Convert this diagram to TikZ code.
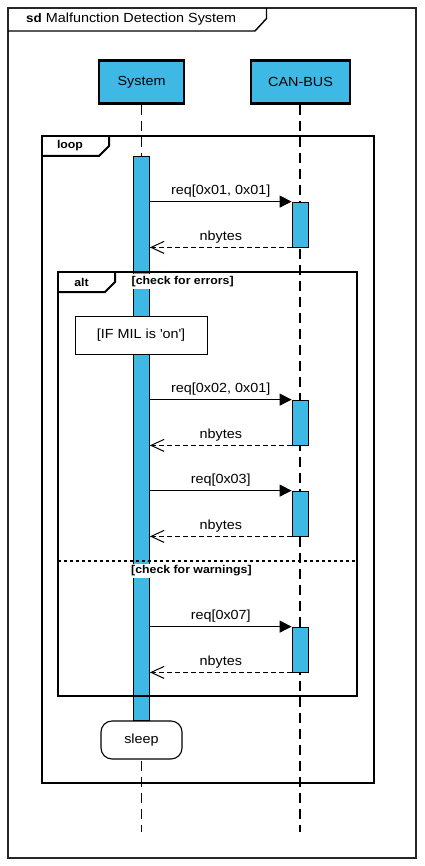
\documentclass[tikz,border=0pt]{standalone}
\usepackage{fontspec}
\setmainfont[FakeStretch=1.09]{Liberation Sans}
\usetikzlibrary{arrows.meta}
\definecolor{actblue}{RGB}{62,185,229}
\begin{document}
\begin{tikzpicture}[x=1pt,y=-1pt,
  txt/.style={font=\fontsize{13.2}{15}\selectfont},
  btxt/.style={font=\fontsize{11.3}{13}\selectfont\bfseries},
  part/.style={txt, draw=black, line width=2.4pt, fill=actblue, minimum height=43pt, inner sep=0pt},
  lifeline/.style={line width=1.2pt, dash pattern=on 10pt off 6pt},
  actbar/.style={draw=black, line width=0.8pt, fill=actblue, minimum width=16pt, inner sep=0pt},
  syncmsg/.style={line width=1pt, -{Triangle[length=12pt,width=12pt]}},
  replymsg/.style={line width=1pt, dash pattern=on 5pt off 3pt, -{Straight Barb[length=13pt,width=12pt,line width=1pt]}},
  msglabel/.style={txt, midway, above=3.5pt, inner sep=0pt},
  fragframe/.style={draw=black, line width=2.2pt, inner sep=0pt},
  guard/.style={btxt, fill=white, anchor=west, inner xsep=1pt, inner ysep=2pt},
  notebox/.style={txt, draw=black, line width=0.9pt, fill=white, inner sep=0pt}
]
\useasboundingbox (0,0) rectangle (424,866);
\fill[white] (0,0) rectangle (424,866);

% outer sd frame
\node[draw=black!85, line width=1.2pt, minimum width=408pt, minimum height=850pt, inner sep=0pt] (outer) at (212,433) {};
\draw[line width=1.4pt] (8,31) -- (255,31) -- (266.5,18.5) -- (266.5,8);
\node[txt, anchor=west, inner sep=0pt] (title) at (26,19) {{\fontsize{12.3}{14}\selectfont\bfseries sd} Malfunction Detection System};

% participants
\node[part, minimum width=85pt] (sys) at (141.5,82) {System};
\node[part, minimum width=99pt] (can) at (300.5,82) {CAN-BUS};

% lifelines
\coordinate (sysend) at (141.5,832);
\coordinate (canend) at (300,832);
\draw[lifeline] (sys.south -| sysend) -- (sysend);
\draw[lifeline] (can.south -| canend) -- (canend);

% activation bars
\node[actbar, minimum height=564pt] (sysact) at (141.5,438) {};
\node[actbar, minimum height=45pt] (can1) at (300,224.5) {};
\node[actbar, minimum height=45pt] (can2) at (300,422.5) {};
\node[actbar, minimum height=45pt] (can3) at (300,513.5) {};
\node[actbar, minimum height=45pt] (can4) at (300,649.5) {};

% messages
\draw[syncmsg] (sysact.east |- can1.north west) -- (can1.north west) node[msglabel] {req[0x01, 0x01]};
\draw[replymsg] (can1.south west) -- (sysact.east |- can1.south west) node[msglabel] {nbytes};
\draw[syncmsg] (sysact.east |- can2.north west) -- (can2.north west) node[msglabel] {req[0x02, 0x01]};
\draw[replymsg] (can2.south west) -- (sysact.east |- can2.south west) node[msglabel] {nbytes};
\draw[syncmsg] (sysact.east |- can3.north west) -- (can3.north west) node[msglabel] {req[0x03]};
\draw[replymsg] (can3.south west) -- (sysact.east |- can3.south west) node[msglabel] {nbytes};
\draw[syncmsg] (sysact.east |- can4.north west) -- (can4.north west) node[msglabel] {req[0x07]};
\draw[replymsg] (can4.south west) -- (sysact.east |- can4.south west) node[msglabel] {nbytes};

% loop fragment
\node[fragframe, minimum width=332pt, minimum height=647pt] (loop) at (208,459.5) {};
\draw[line width=2pt] (42,156) -- (99,156) -- (109,146) -- (109,136);
\node[btxt, inner sep=0pt] (looplbl) at (70,146) {loop};

% alt fragment
\node[fragframe, minimum width=299pt, minimum height=424pt] (alt) at (207.5,484) {};
\draw[line width=2pt] (58,292) -- (105,292) -- (115,282) -- (115,272);
\node[btxt, inner sep=0pt] (altlbl) at (81.5,282) {alt};
\node[guard] (g1) at (130.5,281.5) {[check for errors]};
\coordinate (sepL) at (58,561);
\coordinate (sepR) at (357,561);
\draw[line width=1.8pt, dash pattern=on 3pt off 3pt] (sepL) -- (sepR);
\node[guard] (g2) at (130,571) {[check for warnings]};

% state notes
\node[notebox, minimum width=132pt, minimum height=38pt] (mil) at (141,335) {[IF MIL is \textquotesingle on\textquotesingle]};
\node[notebox, line width=1.1pt, rounded corners=11pt, minimum width=81pt, minimum height=38pt] (sleep) at (141.5,740) {sleep};
\end{tikzpicture}
\end{document}
